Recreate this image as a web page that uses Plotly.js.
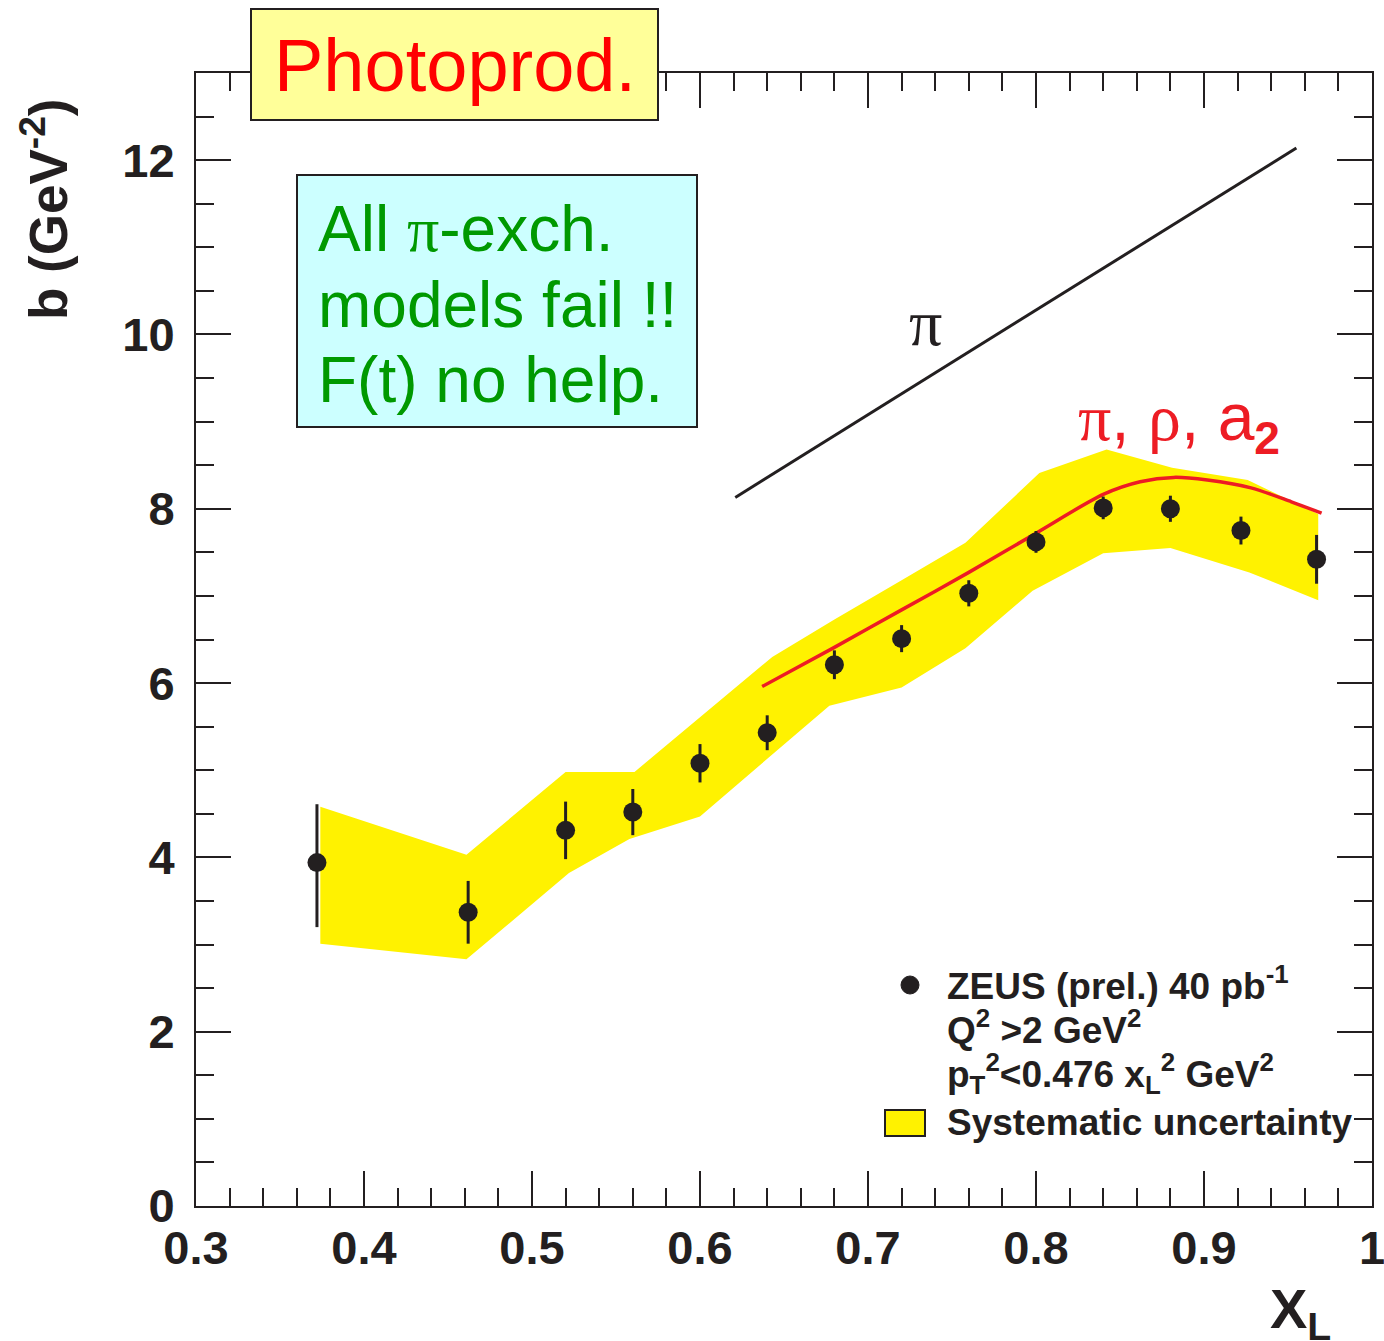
<!DOCTYPE html>
<html>
<head>
<meta charset="utf-8">
<script src="https://cdn.plot.ly/plotly-3.0.1.min.js"></script>
<style>html,body{margin:0;padding:0;background:#fff;}#chart{width:1384px;height:1341px;}</style>
</head>
<body>
<div id="chart"></div>
<script>
// ---- data ----
const xL      = [0.372, 0.462, 0.52, 0.56, 0.60, 0.64, 0.68, 0.72, 0.76, 0.80, 0.84, 0.88, 0.922, 0.967];
const bSlope  = [3.94, 3.37, 4.31, 4.52, 5.08, 5.43, 6.21, 6.51, 7.03, 7.62, 8.01, 8.00, 7.75, 7.42];
const errUp   = [0.67, 0.36, 0.33, 0.265, 0.22, 0.20, 0.165, 0.155, 0.15, 0.125, 0.13, 0.15, 0.16, 0.28];
const errDown = [0.74, 0.36, 0.33, 0.265, 0.22, 0.20, 0.165, 0.155, 0.15, 0.125, 0.13, 0.15, 0.16, 0.28];

const sysUpX = [0.374, 0.461, 0.520, 0.561, 0.643, 0.680, 0.720, 0.758, 0.802, 0.842, 0.881, 0.926, 0.968];
const sysUpY = [4.58, 4.03, 4.98, 4.98, 6.30, 6.73, 7.18, 7.61, 8.41, 8.68, 8.47, 8.33, 7.94];
const sysLoX = [0.374, 0.461, 0.522, 0.558, 0.600, 0.677, 0.720, 0.758, 0.798, 0.840, 0.880, 0.927, 0.968];
const sysLoY = [3.01, 2.83, 3.82, 4.21, 4.47, 5.74, 5.95, 6.40, 7.06, 7.49, 7.55, 7.27, 6.95];

const modelAllX = [0.637, 0.68, 0.72, 0.76, 0.80, 0.84, 0.862, 0.882, 0.902, 0.928, 0.952, 0.970];
const modelAllY = [5.96, 6.41, 6.84, 7.27, 7.72, 8.165, 8.31, 8.36, 8.33, 8.24, 8.08, 7.95];

const modelPiX = [0.621, 0.955];
const modelPiY = [8.13, 12.14];

const xTickVals = [0.3, 0.4, 0.5, 0.6, 0.7, 0.8, 0.9, 1.0];
const xTickText = ['0.3', '0.4', '0.5', '0.6', '0.7', '0.8', '0.9', '1'];
const yTickVals = [0, 2, 4, 6, 8, 10, 12];
const yTickText = ['0', '2', '4', '6', '8', '10', '12'];

const boxLines = ['All <span style="font-family:Liberation Serif">π</span>-exch.', 'models fail !!', 'F(t) no help.'];
const legendLines = ['ZEUS (prel.) 40 pb<sup>-1</sup>', 'Q<sup>2</sup> &gt;2 GeV<sup>2</sup>',
                     'p<sub>T</sub><sup>2</sup>&lt;0.476 x<sub>L</sub><sup>2</sup> GeV<sup>2</sup>', 'Systematic uncertainty'];

// ---- styling ----
const INK = '#231f20';
const SANS = 'Liberation Sans, Arial, sans-serif';
const SERIF = 'Liberation Serif, Times New Roman, serif';

const bandX = sysUpX.concat(sysLoX.slice().reverse());
const bandY = sysUpY.concat(sysLoY.slice().reverse());

const traces = [
  {
    x: bandX, y: bandY, type: 'scatter', mode: 'lines',
    fill: 'toself', fillcolor: '#fff200', line: {width: 0, color: '#fff200'},
    hoverinfo: 'skip', showlegend: false
  },
  {
    x: modelPiX, y: modelPiY, type: 'scatter', mode: 'lines',
    line: {color: INK, width: 3}, showlegend: false
  },
  {
    x: modelAllX, y: modelAllY, type: 'scatter', mode: 'lines',
    line: {color: '#ed1c24', width: 3.5, shape: 'spline', smoothing: 0.8}, showlegend: false
  },
  {
    x: xL, y: bSlope, type: 'scatter', mode: 'markers',
    marker: {color: INK, size: 19},
    error_y: {type: 'data', symmetric: false, array: errUp, arrayminus: errDown,
              color: INK, thickness: 3, width: 0},
    showlegend: false
  }
];

const L = 196, R = 1372, T = 73, B = 1206;
const px = v => (v - L) / (R - L);
const py = v => (B - v) / (B - T);

const boxCenters = [229, 305, 380];
const legendCenters = [983, 1027, 1073, 1122];

const annotations = [
  {xref: 'paper', yref: 'paper', x: px(455), y: py(66), xanchor: 'center', yanchor: 'middle',
   text: 'Photoprod.', showarrow: false,
   font: {family: SANS, size: 74, color: '#ff0000'}},
  {x: 0.7343, y: 10.14, xref: 'x', yref: 'y', showarrow: false,
   text: 'π', font: {family: SERIF, size: 66, color: INK}},
  {x: 0.8854, y: 9.0, xref: 'x', yref: 'y', showarrow: false,
   text: '<span style="font-family:Liberation Serif">π</span>, <span style="font-family:Liberation Serif">ρ</span>, a<sub><b>2</b></sub>',
   font: {family: SANS, size: 66, color: '#ed1c24'}},
  {xref: 'paper', yref: 'paper', x: px(44), y: py(210), xanchor: 'center', yanchor: 'middle',
   textangle: -90, showarrow: false, text: 'b (GeV<sup>-2</sup>)',
   font: {family: SANS, size: 53, color: INK, weight: 'bold'}},
  {xref: 'paper', yref: 'paper', x: px(1300), y: py(1312), xanchor: 'center', yanchor: 'middle',
   showarrow: false, text: 'X<sub>L</sub>',
   font: {family: SANS, size: 56, color: INK, weight: 'bold'}}
];
boxLines.forEach((t, i) => annotations.push({
  xref: 'paper', yref: 'paper', x: px(316), y: py(boxCenters[i]), xanchor: 'left', yanchor: 'middle',
  align: 'left', showarrow: false, text: t,
  font: {family: SANS, size: 64, color: '#009900'}
}));
legendLines.forEach((t, i) => annotations.push({
  xref: 'paper', yref: 'paper', x: px(945), y: py(legendCenters[i]), xanchor: 'left', yanchor: 'middle',
  showarrow: false, text: t,
  font: {family: SANS, size: 37, color: INK, weight: 'bold'}
}));

const layout = {
  width: 1384, height: 1341,
  margin: {l: L, r: 1384 - R, t: T, b: 1341 - B},
  paper_bgcolor: '#ffffff', plot_bgcolor: '#ffffff',
  showlegend: false,
  xaxis: {
    range: [0.3, 1.0], showgrid: false, zeroline: false,
    showline: true, linecolor: INK, linewidth: 2, mirror: 'allticks',
    ticks: 'inside', ticklen: 35, tickwidth: 2, tickcolor: INK,
    tickmode: 'array', tickvals: xTickVals, ticktext: xTickText,
    minor: {ticks: 'inside', ticklen: 18, tickwidth: 2, tickcolor: INK, dtick: 0.02, showgrid: false},
    tickfont: {family: SANS, size: 47, color: INK, weight: 'bold'},
    ticklabelstandoff: 0, ticklabeloverflow: 'allow'
  },
  yaxis: {
    range: [0, 13], showgrid: false, zeroline: false,
    showline: true, linecolor: INK, linewidth: 2, mirror: 'allticks',
    ticks: 'inside', ticklen: 35, tickwidth: 2, tickcolor: INK,
    tickmode: 'array', tickvals: yTickVals, ticktext: yTickText,
    minor: {ticks: 'inside', ticklen: 18, tickwidth: 2, tickcolor: INK, dtick: 0.5, showgrid: false},
    tickfont: {family: SANS, size: 47, color: INK, weight: 'bold'},
    ticklabelstandoff: 10
  },
  shapes: [
    {type: 'rect', xref: 'paper', yref: 'paper', layer: 'above',
     x0: px(251), x1: px(658), y0: py(120), y1: py(9),
     fillcolor: '#ffff99', line: {color: INK, width: 2}},
    {type: 'rect', xref: 'paper', yref: 'paper', layer: 'above',
     x0: px(297), x1: px(697), y0: py(427), y1: py(175),
     fillcolor: '#ccffff', line: {color: INK, width: 2}},
    {type: 'circle', xref: 'paper', yref: 'paper', layer: 'above',
     x0: px(901), x1: px(919), y0: py(994), y1: py(976),
     fillcolor: INK, line: {color: INK, width: 1}},
    {type: 'rect', xref: 'paper', yref: 'paper', layer: 'above',
     x0: px(885), x1: px(925), y0: py(1136), y1: py(1110),
     fillcolor: '#fff200', line: {color: INK, width: 2}}
  ],
  annotations: annotations
};

Plotly.newPlot('chart', traces, layout, {displayModeBar: false, staticPlot: true});
</script>
</body>
</html>
